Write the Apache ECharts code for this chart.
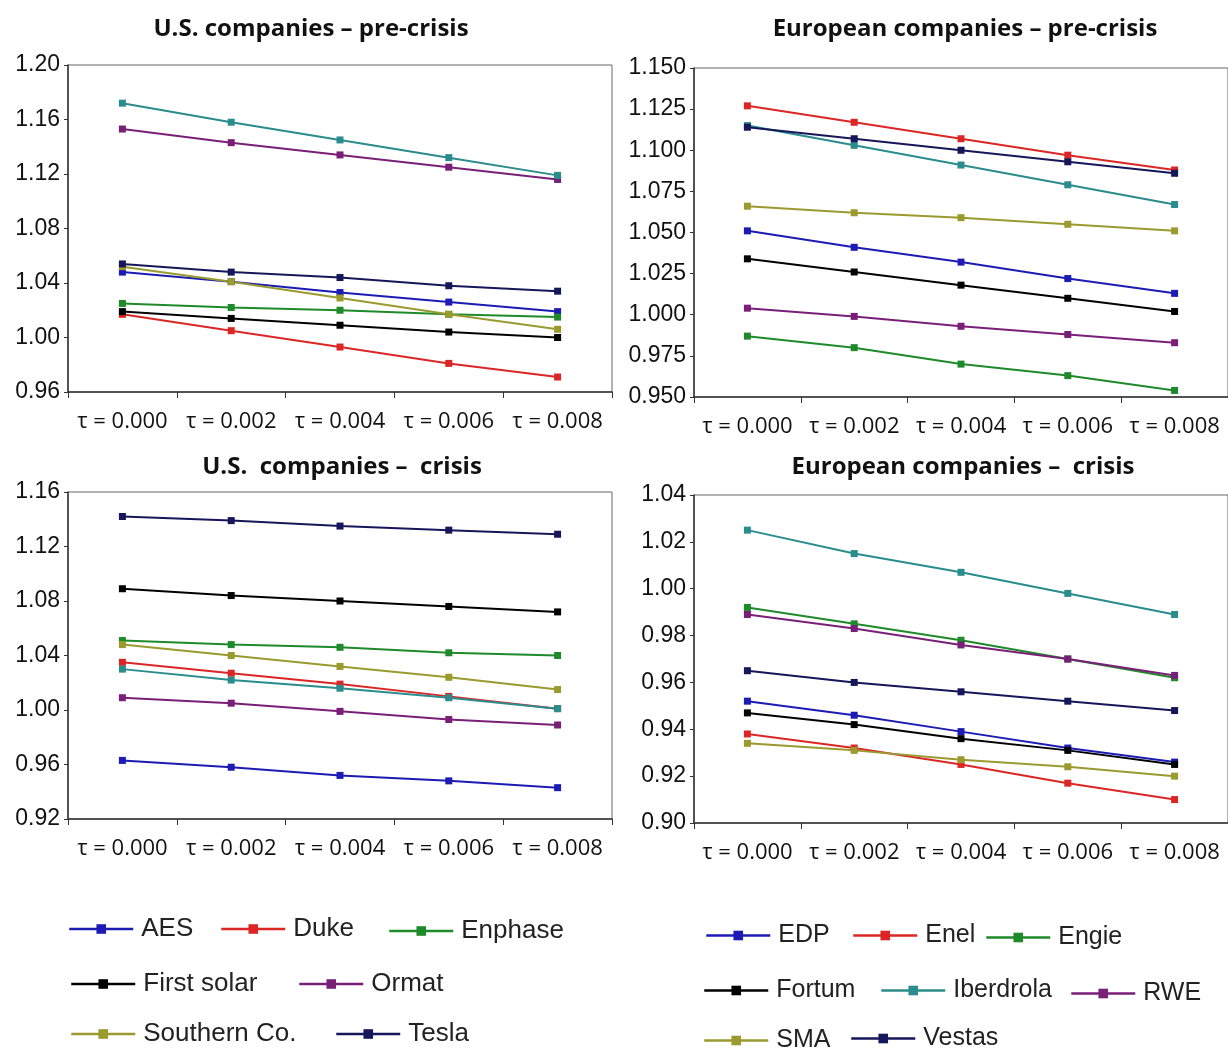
<!DOCTYPE html>
<html>
<head>
<meta charset="utf-8">
<script src="https://cdn.jsdelivr.net/npm/echarts@6/dist/echarts.min.js"></script>
<style>
  html, body { margin: 0; padding: 0; background: #fff; }
  #chart { width: 1228px; height: 1048px; }
</style>
</head>
<body>
<div id="chart"></div>
<script>
const tauLabels = ['τ = 0.000', 'τ = 0.002', 'τ = 0.004', 'τ = 0.006', 'τ = 0.008']

// US panels: AES, Duke, Enphase, First solar, Ormat, Southern Co., Tesla, plus an unlabelled teal line
const usNames = ['AES', 'Duke', 'Enphase', 'First solar', 'Ormat', 'Southern Co.', 'Tesla', '']
const usPre = [
  [1.048, 1.041, 1.033, 1.026, 1.019],
  [1.017, 1.005, 0.993, 0.981, 0.971],
  [1.025, 1.022, 1.020, 1.017, 1.015],
  [1.019, 1.014, 1.009, 1.004, 1.000],
  [1.153, 1.143, 1.134, 1.125, 1.116],
  [1.052, 1.041, 1.029, 1.017, 1.006],
  [1.054, 1.048, 1.044, 1.038, 1.034],
  [1.172, 1.158, 1.145, 1.132, 1.119]
]
const usCrisis = [
  [0.963, 0.958, 0.952, 0.948, 0.943],
  [1.035, 1.027, 1.019, 1.010, 1.001],
  [1.051, 1.048, 1.046, 1.042, 1.040],
  [1.089, 1.084, 1.080, 1.076, 1.072],
  [1.009, 1.005, 0.999, 0.993, 0.989],
  [1.048, 1.040, 1.032, 1.024, 1.015],
  [1.142, 1.139, 1.135, 1.132, 1.129],
  [1.030, 1.022, 1.016, 1.009, 1.001]
]

const euNames = ['EDP', 'Enel', 'Engie', 'Fortum', 'Iberdrola', 'RWE', 'SMA', 'Vestas']
const euPre = [
  [1.051, 1.041, 1.032, 1.022, 1.013],
  [1.127, 1.117, 1.107, 1.097, 1.088],
  [0.987, 0.980, 0.970, 0.963, 0.954],
  [1.034, 1.026, 1.018, 1.010, 1.002],
  [1.115, 1.103, 1.091, 1.079, 1.067],
  [1.004, 0.999, 0.993, 0.988, 0.983],
  [1.066, 1.062, 1.059, 1.055, 1.051],
  [1.114, 1.107, 1.100, 1.093, 1.086]
]
const euCrisis = [
  [0.952, 0.946, 0.939, 0.932, 0.926],
  [0.938, 0.932, 0.925, 0.917, 0.910],
  [0.992, 0.985, 0.978, 0.970, 0.962],
  [0.947, 0.942, 0.936, 0.931, 0.925],
  [1.025, 1.015, 1.007, 0.998, 0.989],
  [0.989, 0.983, 0.976, 0.970, 0.963],
  [0.934, 0.931, 0.927, 0.924, 0.920],
  [0.965, 0.960, 0.956, 0.952, 0.948]
]

const usColors = ['#1c1cb4', '#dc2626', '#1f8a2a', '#000000', '#7a1f78', '#9a9a2e', '#16165a', '#2a8c8c']
const euColors = ['#1c1cb4', '#dc2626', '#1f8a2a', '#000000', '#2a8c8c', '#7a1f78', '#9a9a2e', '#16165a']

// panel layout: grid boxes and axis ranges
const panels = [
  { title: 'U.S. companies – pre-crisis', tx: 306, ty: 12, grid: { left: 68, top: 65, width: 544, height: 327 },
    min: 0.96, max: 1.20, step: 0.04, dec: 2, names: usNames, rows: usPre, colors: usColors },
  { title: 'European companies – pre-crisis', tx: 960, ty: 12, grid: { left: 694, top: 68, width: 540, height: 329 },
    min: 0.95, max: 1.15, step: 0.025, dec: 3, names: euNames, rows: euPre, colors: euColors },
  { title: 'U.S.  companies –  crisis', tx: 337, ty: 450, grid: { left: 68, top: 492, width: 544, height: 327 },
    min: 0.92, max: 1.16, step: 0.04, dec: 2, names: usNames, rows: usCrisis, colors: usColors },
  { title: 'European companies –  crisis', tx: 958, ty: 450, grid: { left: 694, top: 495, width: 540, height: 328 },
    min: 0.90, max: 1.04, step: 0.02, dec: 2, names: euNames, rows: euCrisis, colors: euColors }
]

// legend item spots (icon left edge, vertical centre, font size)
const legendSpots = [
  ['AES', 68, 928, 26], ['Duke', 220, 928, 26], ['Enphase', 388, 930, 26],
  ['First solar', 70, 983, 26], ['Ormat', 298, 983, 26],
  ['Southern Co.', 70, 1033, 26], ['Tesla', 335, 1033, 26],
  ['EDP', 705, 935, 25], ['Enel', 852, 935, 25], ['Engie', 985, 937, 25],
  ['Fortum', 703, 990, 25], ['Iberdrola', 880, 990, 25], ['RWE', 1070, 993, 25],
  ['SMA', 703, 1040, 25], ['Vestas', 850, 1038, 25]
]

const chart = echarts.init(document.getElementById('chart'))

const series = []
panels.forEach((p, i) => {
  p.rows.forEach((vals, k) => {
    series.push({
      type: 'line',
      name: p.names[k],
      xAxisIndex: i,
      yAxisIndex: i,
      data: vals,
      symbol: 'rect',
      symbolSize: 7,
      color: p.colors[k],
      lineStyle: { width: 2, color: p.colors[k] },
      itemStyle: { color: p.colors[k] },
      animation: false,
      z: 3
    })
  })
})

chart.setOption({
  backgroundColor: '#fff',
  animation: false,
  title: panels.map(p => ({
    text: p.title,
    left: p.tx,
    top: p.ty,
    textAlign: 'center',
    textStyle: { fontFamily: 'Open Sans', fontWeight: 'bold', fontSize: 24, color: '#111' }
  })),
  legend: legendSpots.map(([name, x, y, fs]) => ({
    data: [name],
    left: x - 5,
    top: y - 17,
    itemWidth: 64,
    itemHeight: 12,
    selectedMode: false,
    lineStyle: { width: 2.5 },
    textStyle: { fontFamily: 'Liberation Sans', fontSize: fs, color: '#222', padding: [0, 0, 0, 3] }
  })),
  grid: panels.map(p => ({
    ...p.grid,
    show: true,
    borderColor: '#666',
    borderWidth: 1,
    backgroundColor: '#fff'
  })),
  xAxis: panels.map((p, i) => ({
    type: 'category',
    gridIndex: i,
    data: tauLabels,
    boundaryGap: true,
    axisLine: { lineStyle: { color: '#333', width: 1.5 } },
    axisTick: { show: true, length: 6, lineStyle: { color: '#333' } },
    axisLabel: { interval: 0, margin: 19, fontFamily: 'Open Sans', fontSize: 22, color: '#111' },
    splitLine: { show: false }
  })),
  yAxis: panels.map((p, i) => ({
    type: 'value',
    gridIndex: i,
    min: p.min,
    max: p.max,
    interval: p.step,
    axisLine: { show: true, lineStyle: { color: '#333', width: 1.5 } },
    axisTick: { show: true, length: 4, lineStyle: { color: '#333' } },
    axisLabel: {
      margin: 8,
      fontFamily: 'Liberation Sans',
      fontSize: 23,
      color: '#111',
      formatter: v => v.toFixed(p.dec)
    },
    splitLine: { show: false }
  })),
  series
})
</script>
</body>
</html>
